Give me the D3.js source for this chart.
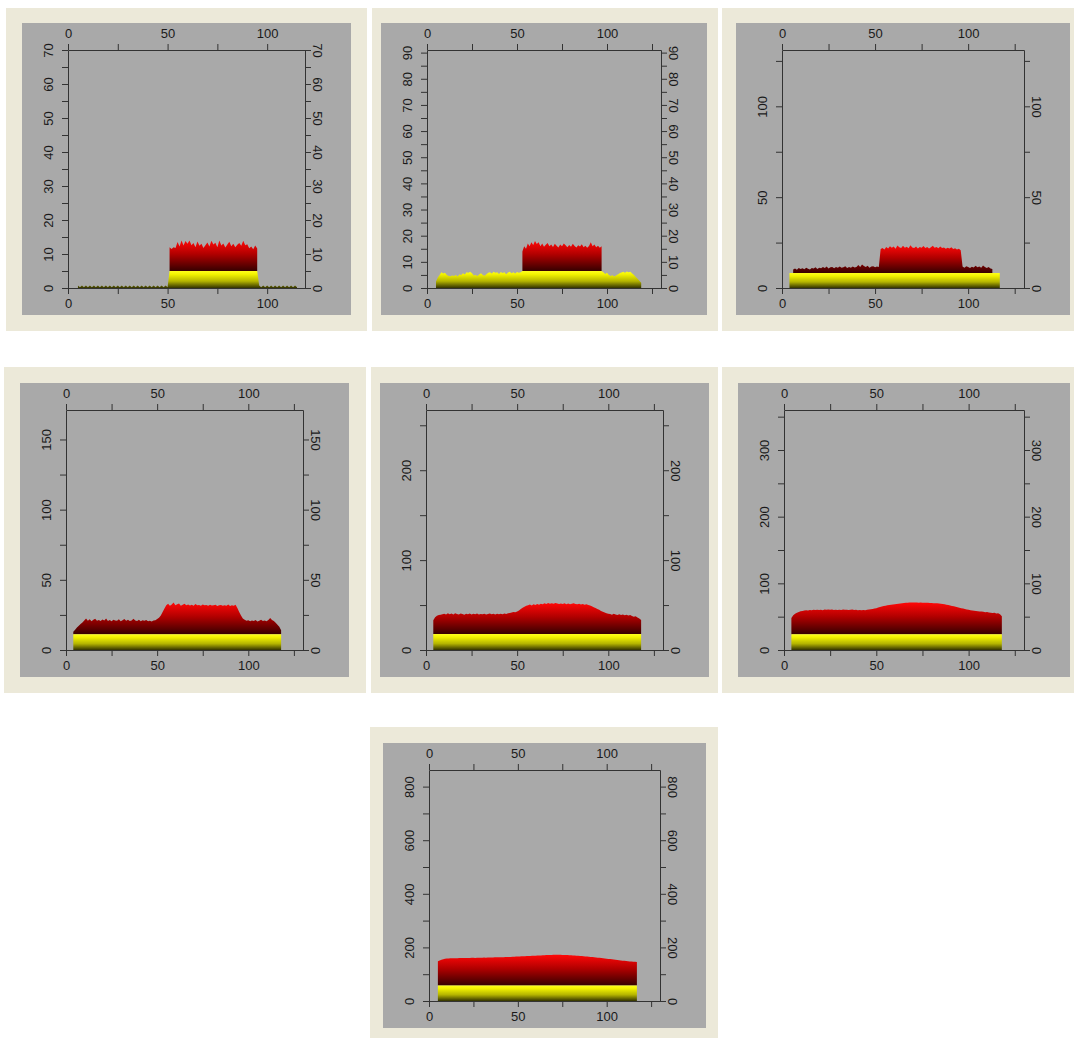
<!DOCTYPE html>
<html>
<head>
<meta charset="utf-8">
<script src="https://cdn.jsdelivr.net/npm/d3@7"></script>
<style>
  body { margin: 0; background: #fff; }
</style>
</head>
<body>
<svg id="chart" width="1074" height="1038"></svg>
<script>
// ---- data (x is one unit per step) ----

// yellow (lower) layer, top value per x
const yellow1 = [
  0.7,0.2,0.7,0.2,0.7,0.2,0.7,0.2,0.7,0.2, 0.7,0.2,0.7,0.2,0.7,0.2,0.7,0.2,0.7,0.2,
  0.7,0.2,0.7,0.2,0.7,0.2,0.7,0.2,0.7,0.2, 0.7,0.2,0.7,0.2,0.7,0.2,0.7,0.2,0.7,0.2,
  0.7,0.2,0.7,0.2,0.7,0.2,
  5,5,5,5,5,5,5,5,5,5, 5,5,5,5,5,5,5,5,5,5, 5,5,5,5,5,5,5,5,5,5, 5,5,5,5,5,5,5,5,5,5, 5,5,5,5,5,
  0.7,0.2,0.7,0.2,0.7,0.2,0.7,0.2,0.7,0.2, 0.7,0.2,0.7,0.2,0.7,0.2,0.7,0.2,0.7,0.2
];
const yellow2 = [
  2.5,4,5,6,5.5,5.8,5,4.6,4.5,4.8, 4.6,5,4.4,5.2,5,5.6,5.2,6,5.8,6.2,
  5.6,4.8,5,4.6,5.2,5.6,5,4.7,5.3,5.8, 6,5.5,6.2,5.8,6,5.4,6.1,5.7,6,5.3,
  5.9,6.2,5.6,6,5.5,6.1,5.8,6,
  6.5,6.5,6.5,6.5,6.5,6.5,6.5,6.5,6.5,6.5, 6.5,6.5,6.5,6.5,6.5,6.5,6.5,6.5,6.5,6.5,
  6.5,6.5,6.5,6.5,6.5,6.5,6.5,6.5,6.5,6.5, 6.5,6.5,6.5,6.5,6.5,6.5,6.5,6.5,6.5,6.5,
  6.5,6.5,6.5,6.5,6.5,
  6,5.4,5.8,5,4.6,4.9,4.4,4.8,5.2,5.6, 5.9,6.2,5.8,6.3,6,6.2,5.5,5,4.2,3.5, 2.8,2
];
const yellow3 = [
  8.3,8.3,8.3,8.3,8.3,8.3,8.3,8.3,8.3,8.3, 8.3,8.3,8.3,8.3,8.3,8.3,8.3,8.3,8.3,8.3,
  8.3,8.3,8.3,8.3,8.3,8.3,8.3,8.3,8.3,8.3, 8.3,8.3,8.3,8.3,8.3,8.3,8.3,8.3,8.3,8.3,
  8.3,8.3,8.3,8.3,8.3,8.3,8.3,8.3,8.3,8.3, 8.3,8.3,8.3,8.3,8.3,8.3,8.3,8.3,8.3,8.3,
  8.3,8.3,8.3,8.3,8.3,8.3,8.3,8.3,8.3,8.3, 8.3,8.3,8.3,8.3,8.3,8.3,8.3,8.3,8.3,8.3,
  8.3,8.3,8.3,8.3,8.3,8.3,8.3,8.3,8.3,8.3, 8.3,8.3,8.3,8.3,8.3,8.3,8.3,8.3,8.3,8.3,
  8.3,8.3,8.3,8.3,8.3,8.3,8.3,8.3,8.3,8.3, 8.3,8.3,8.3,8.3
];
const yellow4 = [
  11.2,11.2,11.2,11.2,11.2,11.2,11.2,11.2,11.2,11.2, 11.2,11.2,11.2,11.2,11.2,11.2,11.2,11.2,11.2,11.2,
  11.2,11.2,11.2,11.2,11.2,11.2,11.2,11.2,11.2,11.2, 11.2,11.2,11.2,11.2,11.2,11.2,11.2,11.2,11.2,11.2,
  11.2,11.2,11.2,11.2,11.2,11.2,11.2,11.2,11.2,11.2, 11.2,11.2,11.2,11.2,11.2,11.2,11.2,11.2,11.2,11.2,
  11.2,11.2,11.2,11.2,11.2,11.2,11.2,11.2,11.2,11.2, 11.2,11.2,11.2,11.2,11.2,11.2,11.2,11.2,11.2,11.2,
  11.2,11.2,11.2,11.2,11.2,11.2,11.2,11.2,11.2,11.2, 11.2,11.2,11.2,11.2,11.2,11.2,11.2,11.2,11.2,11.2,
  11.2,11.2,11.2,11.2,11.2,11.2,11.2,11.2,11.2,11.2, 11.2,11.2,11.2,11.2,11.2
];
const yellow5 = [
  17.8,17.8,17.8,17.8,17.8,17.8,17.8,17.8,17.8,17.8, 17.8,17.8,17.8,17.8,17.8,17.8,17.8,17.8,17.8,17.8,
  17.8,17.8,17.8,17.8,17.8,17.8,17.8,17.8,17.8,17.8, 17.8,17.8,17.8,17.8,17.8,17.8,17.8,17.8,17.8,17.8,
  17.8,17.8,17.8,17.8,17.8,17.8,17.8,17.8,17.8,17.8, 17.8,17.8,17.8,17.8,17.8,17.8,17.8,17.8,17.8,17.8,
  17.8,17.8,17.8,17.8,17.8,17.8,17.8,17.8,17.8,17.8, 17.8,17.8,17.8,17.8,17.8,17.8,17.8,17.8,17.8,17.8,
  17.8,17.8,17.8,17.8,17.8,17.8,17.8,17.8,17.8,17.8, 17.8,17.8,17.8,17.8,17.8,17.8,17.8,17.8,17.8,17.8,
  17.8,17.8,17.8,17.8,17.8,17.8,17.8,17.8,17.8,17.8, 17.8,17.8,17.8,17.8,17.8
];
const yellow6 = [
  23.7,23.7,23.7,23.7,23.7,23.7,23.7,23.7,23.7,23.7, 23.7,23.7,23.7,23.7,23.7,23.7,23.7,23.7,23.7,23.7,
  23.7,23.7,23.7,23.7,23.7,23.7,23.7,23.7,23.7,23.7, 23.7,23.7,23.7,23.7,23.7,23.7,23.7,23.7,23.7,23.7,
  23.7,23.7,23.7,23.7,23.7,23.7,23.7,23.7,23.7,23.7, 23.7,23.7,23.7,23.7,23.7,23.7,23.7,23.7,23.7,23.7,
  23.7,23.7,23.7,23.7,23.7,23.7,23.7,23.7,23.7,23.7, 23.7,23.7,23.7,23.7,23.7,23.7,23.7,23.7,23.7,23.7,
  23.7,23.7,23.7,23.7,23.7,23.7,23.7,23.7,23.7,23.7, 23.7,23.7,23.7,23.7,23.7,23.7,23.7,23.7,23.7,23.7,
  23.7,23.7,23.7,23.7,23.7,23.7,23.7,23.7,23.7,23.7, 23.7,23.7,23.7,23.7,23.7
];
const yellow7 = [
  58,58,58,58,58,58,58,58,58,58, 58,58,58,58,58,58,58,58,58,58,
  58,58,58,58,58,58,58,58,58,58, 58,58,58,58,58,58,58,58,58,58,
  58,58,58,58,58,58,58,58,58,58, 58,58,58,58,58,58,58,58,58,58,
  58,58,58,58,58,58,58,58,58,58, 58,58,58,58,58,58,58,58,58,58,
  58,58,58,58,58,58,58,58,58,58, 58,58,58,58,58,58,58,58,58,58,
  58,58,58,58,58,58,58,58,58,58, 58,58,58
];

// red (upper) layer, total height of its top per x
const red1 = [
  12,11.5,12,11.8,13.5,12.2,14,12.5,13.8,13, 14,12.6,13.2,12,13.7,12.4,13,11.8,12.6,13.4,
  12.2,13.9,12.8,13.3,12,14,12.5,13.1,11.9,12.8, 13.6,12.3,13,12,12.7,13.2,12.4,13.9,12.6,12.9,
  11.7,12.2,11.4,12.5,11.6
];
const red2 = [
  14,16,15,17,16,17.5,16.4,18,16.8,17.5, 16,17,15.8,16.5,17.2,16,16.6,15.7,16.9,16.2,
  15.5,16.6,16,17,16.3,15.6,16.4,15.8,16.9,16.1, 15.5,16.3,15.9,16.7,15.6,16.2,15.4,16.1,17.5,16,
  16.6,15.6,16.2,15.4,16
];
const red3 = [
  10.2,10.8,10.1,11,10.5,10.9,10.3,11.2,10.6,10.2, 11,10.7,11.4,10.4,11.2,10.9,11.5,11,11.8,10.8,
  11.4,11.6,10.9,11.5,11.2,11.8,11.1,11.4,12,11, 11.5,11.2,11.8,11.3,11.6,12.6,11.5,13,12.1,11.6,
  12.2,11.2,11.8,12,11.4,11.9,11.5,
  21.5,22,21.2,22.6,21.8,23,22.2,22.8,21.6,23.4, 22.4,22,23.2,22.1,22.7,21.9,23.5,22.3,22,22.9,
  21.8,22.5,22.2,23.1,22,22.6,21.7,22.4,23.3,22.1, 22.5,21.9,22.8,22,22.3,21.6,22.2,21.8,22.4,21.5,
  21.9,21.2,21.6,20.8,
  11.8,11.2,12,11.5,11,11.7,11.3,12.2,11.4,11.9, 11.1,12.4,11.5,11,11.6,10.8,10.4
];
const red4 = [
  13,14.5,16,17.2,18.5,19.6,
  21,22.4,20.8,21.9,20.5,21.6,22.2,20.9,21.4,20.6, 21.8,21,22.5,20.7,21.3,20.4,21.6,21,20.8,21.9,
  20.5,21.2,22,20.9,21.5,20.6,21.1,22.3,21,20.7, 21.6,20.4,21.2,20.8,21.4,20.5,20.9,20.3,21,
  21.2,22,23,24.5,27,29.5,31.8,33,
  31.5,32.4,33.8,31.9,32.6,33.2,31.6,32.3,32.9,31.8, 32.5,31.7,32.2,31.5,32.8,31.9,32.1,31.6,32.4,31.8,
  32,31.5,32.3,31.7,31.9,32.2,31.4,31.8,32.1,31.5, 31.9,31.6,32.4,31.3,31.8,31.5,32.2,
  30,27,24.5,22.5,21.5,20.8,
  21.2,20.4,21,20.6,21.4,20.3,20.9,21.5,20.7,21.1,20.5,21.3,22.8,21.4,20.6,
  19.5,18,16.5,14
];
const red5 = [
  33,36.5,38,38.8,39.2,39.8,
  40.2,39.4,40.8,39.9,40.5,39.6,40.9,40.1,39.5,40.6, 40,39.3,40.4,39.8,40.7,39.6,40.2,39.9,40.5,39.4,
  40.1,39.7,40.3,39.5,40,40.6,39.8,40.2,39.6,40.4, 39.9,40.3,39.7,40.5,40,40.8,
  41.2,41.8,42.4,42,42.9,44,45.5,47,48,49.2,
  49.8,50.5,49.6,50.9,50.2,51.2,50.4,51.5,50.8,51.9, 51.2,52.3,51.5,52,51.4,52.2,51.6,51.1,51.8,51.3,
  51.9,51,51.6,50.9,51.4,52,51.2,50.8,51.5,50.6, 51.1,50.4,50.9,
  50.2,49.4,48.6,47.5,46.8,45.6,44.8,43.5,42.6,41.8,41,40.4,
  40,39.3,40.2,39.5,39,39.8,38.9,39.4,38.6,39.1,38.4,38.8,
  37.9,37,37.5,36.2,35,33.5
];
const red6 = [
  48,52,54.5,56,57,58,
  58.6,59.2,59.8,59.4,60.1,59.7,60.3,59.9,60.5,60.1, 60.4,59.8,60.6,60.2,60.8,60.3,60.7,60.1,60.5,59.9,
  60.4,60,60.6,60.2,60.5,59.9,60.3,60.6,60,60.4, 59.8,60.1,59.6,60,59.7,60.2,
  60.6,61,61.5,62.2,62.8,63.6,64.4,65.2,65.9,66.5,67,67.6,68,68.4,68.8,
  69.1,69.5,69.8,70.2,70.4,70.8,71,71.2,71.1,71.4, 71.2,71.3,71,71.2,70.9,71,70.7,70.8,70.5,70.6,
  70.2,70.3,70,69.8,69.5,
  69.1,68.6,68,67.4,66.8,66.1,65.5,64.8,64.1,63.4,62.8,62.1,61.5,60.8,60.2,
  59.6,59.2,58.8,58.4,58,57.6,57.8,57.2,56.8,57,56.4,56,
  55.5,55.8,54.6,55,53.5,50.5
];
const red7 = [
  148,151,154,156,157.5,158.6,
  159,159.3,159.1,159.6,159.8,159.5,160,160.2,160.1,160.5, 160.4,160.8,160.6,161,161.1,160.9,161.3,161.5,161.3,161.8,
  162,161.8,162.2,162.5,162.3,162.7,162.9,163.1,163,163.4, 163.6,163.5,163.9,164.1,164.4,
  164.6,164.9,165.3,165.6,166,166.2,166.7,167,167.2,167.7, 168,168.2,168.7,169,169.2,169.7,170,170.2,170.7,171,
  171.2,171.7,171.8,172.1,172.2,172.4,172.3,172.5,172.2,172, 171.9,171.5,171.3,170.8,170.5,
  170.1,169.8,169.2,168.8,168.2,167.7,167,166.5,165.8,165.2, 164.4,163.8,163,162.4,161.6,161,160.1,159.5,158.6,157.9,
  157,156.3,155.4,154.7,153.8,153.1,152.2,151.5,150.6,149.9, 149,148.5,147.8,147.4,146.9,146.6,146
];

const yellowSeries = [yellow1, yellow2, yellow3, yellow4, yellow5, yellow6, yellow7];
const redSeries = [red1, red2, red3, red4, red5, red6, red7];
const yellowStart = [5, 5, 4, 4, 4, 4, 5];   // x of first yellow value
const redStart = [51, 53, 6, 4, 4, 4, 5];    // x of first red value

// axis extents and tick steps
const xMax = [119, 130, 130, 130, 130, 130, 130];
const yMax = [70, 91, 131, 171, 267, 360, 862];
const yMajor = [10, 10, 50, 50, 100, 100, 200];
const xMajor = 50;

// ---- layout: beige frame and gray panel of each chart ----
const frames = [
  [6, 8, 361, 323], [372, 8, 346, 323], [722, 8, 352, 323],
  [4, 367, 362, 326], [371, 367, 347, 326], [722, 367, 352, 326],
  [370, 727, 348, 311]
];
const grays = [
  [22, 23, 329, 292], [381, 23, 326, 292], [736, 23, 334, 292],
  [20, 383, 329, 294], [380, 383, 329, 294], [738, 383, 332, 294],
  [383, 743, 323, 285]
];

const svg = d3.select("#chart");
svg.append("rect").attr("width", 1074).attr("height", 1038).attr("fill", "#fff");
const defs = svg.append("defs");

const fontFamily = "'Liberation Sans', Arial, Helvetica, sans-serif";

frames.forEach((f, i) => {
  const g = svg.append("g");
  g.append("rect")
    .attr("x", f[0]).attr("y", f[1]).attr("width", f[2]).attr("height", f[3])
    .attr("fill", "#ece9d9");
  const gr = grays[i];
  g.append("rect")
    .attr("x", gr[0]).attr("y", gr[1]).attr("width", gr[2]).attr("height", gr[3])
    .attr("fill", "#a9a9a9");

  const left = gr[0] + 46, right = gr[0] + gr[2] - 46;
  const top = gr[1] + 27, bottom = gr[1] + gr[3] - 27;

  const x = d3.scaleLinear().domain([0, xMax[i]]).range([left, right]);
  const y = d3.scaleLinear().domain([0, yMax[i]]).range([bottom, top]);

  const yellow = yellowSeries[i];
  const red = redSeries[i];
  const baseAt = xx => {
    const v = yellow[xx - yellowStart[i]];
    return v === undefined ? 0 : v;
  };
  const baseData = yellow.map((v, k) => ({ x: yellowStart[i] + k, v }));
  const redData = red.map((v, k) => ({ x: redStart[i] + k, v, b: baseAt(redStart[i] + k) }));

  const baseMax = d3.max(yellow);
  const redMax = d3.max(red);

  // vertical gradients: dark at the bottom of each layer, bright at its top
  const gy = defs.append("linearGradient")
    .attr("id", "gy" + i).attr("gradientUnits", "userSpaceOnUse")
    .attr("x1", 0).attr("x2", 0).attr("y1", y(0)).attr("y2", y(baseMax));
  gy.append("stop").attr("offset", 0).attr("stop-color", "#333300");
  gy.append("stop").attr("offset", 0.4).attr("stop-color", "#b4b400");
  gy.append("stop").attr("offset", 0.8).attr("stop-color", "#f2f200");
  gy.append("stop").attr("offset", 1).attr("stop-color", "#ffff1e");

  const gRed = defs.append("linearGradient")
    .attr("id", "gr" + i).attr("gradientUnits", "userSpaceOnUse")
    .attr("x1", 0).attr("x2", 0).attr("y1", y(baseMax)).attr("y2", y(redMax));
  gRed.append("stop").attr("offset", 0).attr("stop-color", "#360000");
  gRed.append("stop").attr("offset", 0.55).attr("stop-color", "#b00000");
  gRed.append("stop").attr("offset", 1).attr("stop-color", "#ff0808");

  const baseArea = d3.area()
    .x(d => x(d.x)).y0(y(0)).y1(d => y(d.v));
  const redArea = d3.area()
    .x(d => x(d.x)).y0(d => y(d.b)).y1(d => y(d.v));

  g.append("path").datum(redData)
    .attr("d", redArea).attr("fill", `url(#gr${i})`);
  g.append("path").datum(baseData)
    .attr("d", baseArea).attr("fill", `url(#gy${i})`);

  // axes on all four sides
  const xTicks = d3.range(0, xMax[i] + 1e-9, xMajor / 2);
  const yTicks = d3.range(0, yMax[i] + 1e-9, yMajor[i] / 2);
  const xFmt = d => (d % xMajor === 0 ? d : "");
  const yFmt = d => (d % yMajor[i] === 0 ? d : "");

  const styleAxis = sel => {
    sel.attr("font-size", 13).attr("font-family", fontFamily);
    sel.selectAll("path, line").attr("stroke", "#333");
    sel.selectAll("text").attr("fill", "#1a1a1a");
  };

  g.append("g").attr("transform", `translate(0,${top})`)
    .call(d3.axisTop(x).tickValues(xTicks).tickFormat(xFmt).tickSize(6).tickSizeOuter(0).tickPadding(6))
    .call(styleAxis);
  g.append("g").attr("transform", `translate(0,${bottom})`)
    .call(d3.axisBottom(x).tickValues(xTicks).tickFormat(xFmt).tickSize(6).tickSizeOuter(0).tickPadding(5))
    .call(styleAxis);

  const leftAxis = g.append("g").attr("transform", `translate(${left},0)`)
    .call(d3.axisLeft(y).tickValues(yTicks).tickFormat(yFmt).tickSize(6).tickSizeOuter(0))
    .call(styleAxis);
  leftAxis.selectAll(".tick text")
    .attr("x", 0).attr("dy", 0).attr("text-anchor", "middle")
    .attr("transform", "translate(-15,0) rotate(-90)");

  const rightAxis = g.append("g").attr("transform", `translate(${right},0)`)
    .call(d3.axisRight(y).tickValues(yTicks).tickFormat(yFmt).tickSize(6).tickSizeOuter(0))
    .call(styleAxis);
  rightAxis.selectAll(".tick text")
    .attr("x", 0).attr("dy", 0).attr("text-anchor", "middle")
    .attr("transform", "translate(8,0) rotate(90)");
});
</script>
</body>
</html>
